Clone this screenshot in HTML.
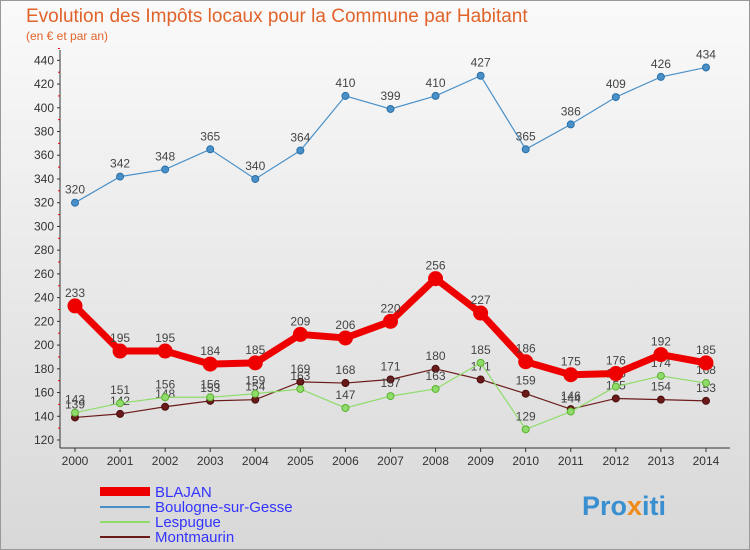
<!DOCTYPE html>
<html><head><meta charset="utf-8"><style>
body{margin:0;width:750px;height:550px;overflow:hidden;font-family:"Liberation Sans",sans-serif}
#wrap{position:relative;width:748px;height:548px;border:1px solid #999;background:linear-gradient(#fafafa,#d8d8d8)}
</style></head><body>
<div id="wrap">
<svg id="c" width="750" height="550" style="position:absolute;left:-1px;top:-1px">
<text x="26" y="22" font-size="19" fill="#e0632a">Evolution des Impôts locaux pour la Commune par Habitant</text>
<text x="26" y="40" font-size="12" fill="#e0632a">(en € et par an)</text>
<g id="axes"></g><g id="series"></g>
<g>
<rect x="100" y="487" width="50" height="9" fill="#e00"/>
<text x="155" y="497" font-size="15" fill="#3333ff">BLAJAN</text>
<line x1="100" y1="507" x2="150" y2="507" stroke="#4a90c8" stroke-width="2"/>
<text x="155" y="512" font-size="15" fill="#3333ff">Boulogne-sur-Gesse</text>
<line x1="100" y1="522" x2="150" y2="522" stroke="#8fdc6a" stroke-width="2"/>
<text x="155" y="527" font-size="15" fill="#3333ff">Lespugue</text>
<line x1="100" y1="537" x2="150" y2="537" stroke="#6b1a1a" stroke-width="2"/>
<text x="155" y="542" font-size="15" fill="#3333ff">Montmaurin</text>
</g>
<text x="582" y="515" font-size="27" font-weight="bold" fill="#3a8fd0">Pro<tspan fill="#f08a1a">x</tspan>iti</text>
</svg></div>
<script>
const years=[2000,2001,2002,2003,2004,2005,2006,2007,2008,2009,2010,2011,2012,2013,2014];
const yTicks=[120,140,160,180,200,220,240,260,280,300,320,340,360,380,400,420,440];
const blajan=[233,195,195,184,185,209,206,220,256,227,186,175,176,192,185];
const boulogne=[320,342,348,365,340,364,410,399,410,427,365,386,409,426,434];
const lespugue=[143,151,156,156,159,163,147,157,163,185,129,144,165,174,168];
const montmaurin=[139,142,148,153,154,169,168,171,180,171,159,146,155,154,153];
const NS="http://www.w3.org/2000/svg";
const X=i=>75+i*45.07;
const Y=v=>440-(v-120)*23.73/20;
function mk(t,a,p){const e=document.createElementNS(NS,t);for(const k in a)e.setAttribute(k,a[k]);p.appendChild(e);return e;}
const ax=document.getElementById('axes'),se=document.getElementById('series');
const yl=mk('line',{x1:60,y1:50,x2:60,y2:448,stroke:'#333'},ax);


const xl=mk('line',{x1:60,y1:448,x2:730,y2:448,stroke:'#333'},ax);


yTicks.forEach(v=>{
 mk('line',{x1:57,x2:60,y1:Y(v),y2:Y(v),stroke:'#333'},ax);
 mk('line',{x1:58,x2:60,y1:Y(v+10),y2:Y(v+10),stroke:'#e00'},ax);
 const t=mk('text',{x:54,y:Y(v)+4,'font-size':12,fill:'#333','text-anchor':'end'},ax);t.textContent=v;
 
 
});
years.forEach((y,i)=>{
 mk('line',{x1:X(i),x2:X(i),y1:448,y2:452,stroke:'#333'},ax);
 const t=mk('text',{x:X(i),y:465,'font-size':12,fill:'#333','text-anchor':'middle'},ax);t.textContent=y;
 
 
});
function series(data,color,w,r,name,stroke){
 const g=mk('g',{},se);
 
 
 const pl=mk('polyline',{points:data.map((v,i)=>X(i)+','+Y(v)).join(' '),fill:'none',stroke:color,'stroke-width':w},g);
 
 
 data.forEach((v,i)=>{
  const c=mk('circle',{cx:X(i),cy:Y(v),r:r,fill:color,stroke:stroke,'stroke-width':1},g);
  
  
  const t=mk('text',{x:X(i),y:Y(v)-9,'font-size':12,fill:'#444','text-anchor':'middle'},g);t.textContent=v;
  
  
 });
}
series(montmaurin,'#6b1a1a',1.2,3.5,'montmaurin','#4a0f0f');
series(lespugue,'#8fdc6a',1.2,3.5,'lespugue','#5ab030');
series(boulogne,'#4a90c8',1.2,3.5,'boulogne','#2a70a8');
series(blajan,'#ee0000',7,7,'blajan','#ee0000');
</script>
</body></html>
